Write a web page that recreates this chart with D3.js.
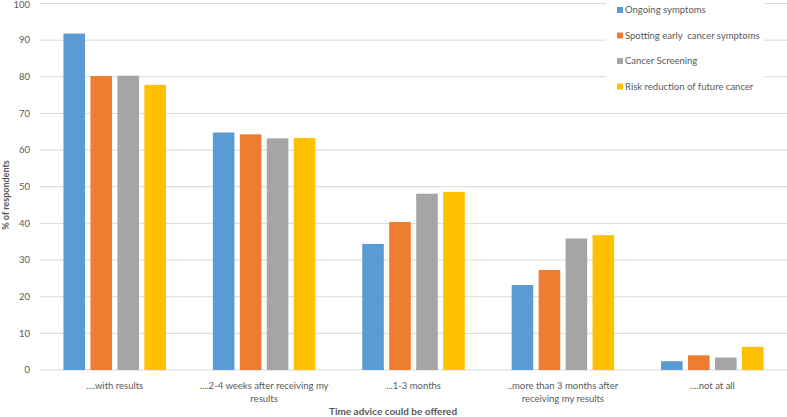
<!DOCTYPE html>
<html>
<head>
<meta charset="utf-8">
<script src="https://cdn.jsdelivr.net/npm/d3@7"></script>
<style>
  body { margin: 0; background: #fff; }
  text { font-family: Lato, "Open Sans", sans-serif; fill: #595959; }
</style>
</head>
<body>
<svg id="chart" width="787" height="417"></svg>
<script>
// categories and their wrapped tick labels
const categories = ['with', 'weeks', 'months', 'more', 'never']
const tick_labels = [
    ['....with results'],
    ['....2-4 weeks after receiving my', 'results'],
    ['...1-3 months'],
    ['..more than 3 months after', 'receiving my results'],
    ['....not at all']
]
const series = ['Ongoing symptoms', 'Spotting early  cancer symptoms', 'Cancer Screening', 'Risk reduction of future cancer']
const colors = ['#5B9BD5', '#ED7D31', '#A5A5A5', '#FFC000']

const ongoing = [91.8, 64.8, 34.4, 23.2, 2.4]
const spotting = [80.2, 64.3, 40.4, 27.3, 4.0]
const screening = [80.3, 63.2, 48.1, 35.9, 3.4]
const risk = [77.8, 63.3, 48.6, 36.8, 6.3]
const values = [ongoing, spotting, screening, risk]
const y_ticks = [0, 10, 20, 30, 40, 50, 60, 70, 80, 90, 100]

svg = d3.select('#chart')

let x = d3.scaleBand().domain(categories).range([40, 787])
let xi = d3.scaleBand().domain(series).range([0, x.bandwidth()])
    .paddingInner(0.2).paddingOuter(0.87)
let y = d3.scaleLinear().domain([0, 100]).range([370, 3.5])

// gridlines
svg.append('g')
    .selectAll('line')
    .data(y_ticks)
    .join('line')
    .attr('x1', 40).attr('x2', 787)
    .attr('y1', d => y(d)).attr('y2', d => y(d))
    .attr('stroke', '#d9d9d9')
    .attr('stroke-width', 1)

// y tick labels
svg.append('g')
    .selectAll('text')
    .data(y_ticks)
    .join('text')
    .attr('x', 30)
    .attr('y', d => Math.max(y(d), 5))
    .attr('dy', '0.35em')
    .attr('text-anchor', 'end')
    .attr('font-size', 9.5)
    .text(d => d)

// bars
series.forEach((s, si) => {
    svg.append('g')
        .attr('fill', colors[si])
        .selectAll('rect')
        .data(values[si])
        .join('rect')
        .attr('x', (d, i) => x(categories[i]) + xi(s))
        .attr('y', d => y(d))
        .attr('width', xi.bandwidth())
        .attr('height', d => y(0) - y(d))
})

// x tick labels
svg.append('g')
    .selectAll('text')
    .data(tick_labels)
    .join('text')
    .attr('x', (d, i) => x(categories[i]) + x.bandwidth() / 2)
    .attr('y', 389)
    .attr('text-anchor', 'middle')
    .attr('font-size', 9.5)
    .selectAll('tspan')
    .data(d => d)
    .join('tspan')
    .attr('x', function () { return this.parentNode.getAttribute('x') })
    .attr('dy', (d, i) => i == 0 ? 0 : 13)
    .text(d => d)

// axis titles
svg.append('text')
    .attr('x', 393)
    .attr('y', 415)
    .attr('text-anchor', 'middle')
    .attr('font-size', 10)
    .attr('font-weight', 'bold')
    .text('Time advice could be offered')

svg.append('text')
    .attr('transform', 'translate(9,195) rotate(-90)')
    .attr('text-anchor', 'middle')
    .attr('font-size', 9)
    .attr('font-weight', 'bold')
    .text('% of respondents')

// legend, over a white box
let legend = svg.append('g').attr('transform', 'translate(606,0)')
legend.append('rect')
    .attr('width', 158).attr('height', 96)
    .attr('fill', '#fff')
let item = legend.selectAll('g')
    .data(series)
    .join('g')
    .attr('transform', (d, i) => 'translate(11,' + (10 + i * 25.5) + ')')
item.append('rect')
    .attr('x', 0).attr('y', -3)
    .attr('width', 6).attr('height', 6)
    .attr('fill', (d, i) => colors[i])
item.append('text')
    .attr('x', 8)
    .attr('dy', '0.35em')
    .attr('font-size', 9.5)
    .attr('xml:space', 'preserve')
    .text(d => d)
</script>
</body>
</html>
